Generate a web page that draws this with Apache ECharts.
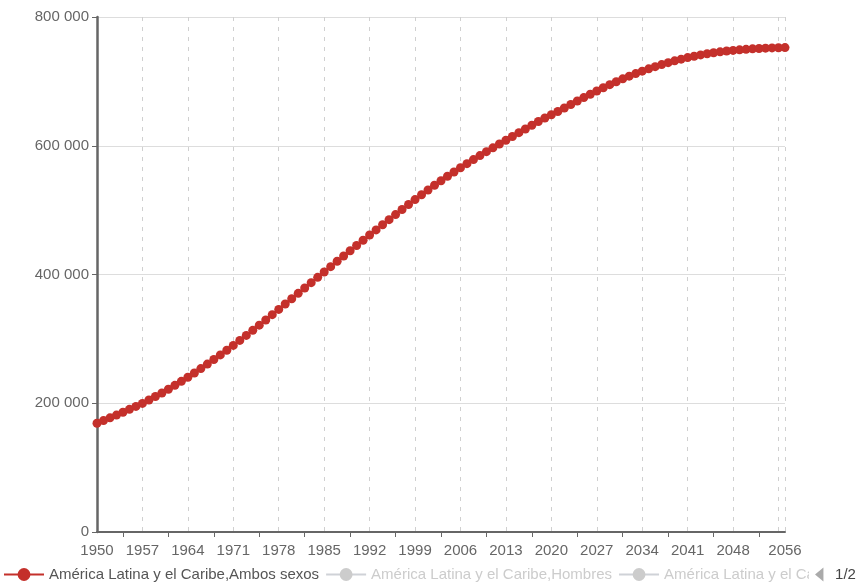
<!DOCTYPE html>
<html>
<head>
<meta charset="utf-8">
<script src="https://cdn.jsdelivr.net/npm/echarts@6/dist/echarts.min.js"></script>
<style>
html,body{margin:0;padding:0;background:#fff;}
#chart{width:856px;height:584px;}
</style>
</head>
<body>
<div id="chart"></div>
<script>
// Years on the category axis
const years = [];
for (let y = 1950; y <= 2056; y++) years.push(String(y));

// Population (thousands), América Latina y el Caribe, Ambos sexos
const ambosSexos = [
  169.0, 173.1, 177.3, 181.6, 186.0, 190.5, 195.1, 199.8, 205.0, 210.4,
  216.0, 221.8, 227.8, 234.0, 240.4, 247.0, 253.8, 260.8, 267.9, 275.1,
  282.4, 289.9, 297.6, 305.4, 313.3, 321.3, 329.4, 337.6, 345.8, 354.1,
  362.4, 370.7, 379.0, 387.3, 395.6, 403.9, 412.2, 420.5, 428.7, 436.9,
  445.1, 453.2, 461.3, 469.3, 477.3, 485.2, 493.1, 500.9, 508.7, 516.4,
  523.9, 531.3, 538.6, 545.7, 552.6, 559.3, 565.8, 572.2, 578.5, 584.7,
  590.8, 596.8, 602.7, 608.5, 614.4, 620.3, 626.1, 631.9, 637.6, 643.1,
  648.2, 653.2, 658.7, 664.1, 669.5, 674.8, 680.0, 685.1, 690.1, 694.9,
  699.5, 703.9, 708.1, 712.1, 715.9, 719.5, 722.9, 726.1, 729.1, 731.9,
  734.5, 736.9, 739.1, 741.1, 742.9, 744.5, 745.9, 747.1, 748.1, 749.0,
  749.8, 750.5, 751.1, 751.6, 752.0, 752.3, 752.5
].map(v => Math.round(v * 1000));

// Hidden series (deselected in the legend, values not visible)
const hombres = [];
const mujeres = [];

const seriesNames = [
  'América Latina y el Caribe,Ambos sexos',
  'América Latina y el Caribe,Hombres',
  'América Latina y el Caribe,Mujeres'
];

const yTicks = { min: 0, max: 800000, interval: 200000 };

const fmt = v => String(v).replace(/\B(?=(\d{3})+(?!\d))/g, ' ');
const last = years.length - 1;

const chart = echarts.init(document.getElementById('chart'), null, { renderer: 'canvas' });
chart.setOption({
  animation: false,
  textStyle: { fontFamily: 'Liberation Sans, Arial, sans-serif' },
  grid: { left: 97, right: 71, top: 17, bottom: 52, containLabel: false },
  legend: {
    type: 'scroll',
    orient: 'horizontal',
    left: 3,
    width: 873,
    bottom: 2,
    padding: 0,
    itemWidth: 40,
    itemHeight: 16,
    itemGap: 6,
    textStyle: { fontSize: 15, color: '#555' },
    inactiveColor: '#ccc',
    pageIconColor: '#888',
    pageIconInactiveColor: '#aaa',
    pageIconSize: 14,
    pageTextStyle: { fontSize: 15, color: '#444' },
    pageButtonItemGap: 5,
    selected: {
      [seriesNames[1]]: false,
      [seriesNames[2]]: false
    },
    data: seriesNames
  },
  xAxis: {
    type: 'category',
    data: years,
    boundaryGap: false,
    axisLine: { lineStyle: { color: '#666', width: 2 } },
    axisTick: {
      show: true,
      length: 5,
      interval: (i) => i % 7 === 4,
      lineStyle: { color: '#666' }
    },
    axisLabel: {
      fontSize: 15,
      color: '#666',
      margin: 11,
      interval: (i) => (i % 7 === 0 && i !== last - 1) || i === last
    },
    splitLine: {
      show: true,
      interval: (i) => i % 7 === 0 || i === last,
      lineStyle: { type: [4, 6], color: '#d0d0d0', width: 1 }
    }
  },
  yAxis: {
    type: 'value',
    min: yTicks.min,
    max: yTicks.max,
    interval: yTicks.interval,
    axisLine: { show: true, lineStyle: { color: '#666', width: 2.5 } },
    axisTick: { show: true, length: 5, lineStyle: { color: '#666' } },
    axisLabel: { fontSize: 15, color: '#666', margin: 8, formatter: fmt },
    splitLine: { show: true, lineStyle: { color: '#ddd', width: 1 } }
  },
  series: [
    {
      name: seriesNames[0],
      type: 'line',
      data: ambosSexos,
      symbol: 'circle',
      symbolSize: 9,
      showAllSymbol: true,
      itemStyle: { color: '#c4302b' },
      lineStyle: { width: 2.5, color: '#c4302b' }
    },
    {
      name: seriesNames[1],
      type: 'line',
      data: hombres,
      symbol: 'circle',
      symbolSize: 9,
      itemStyle: { color: '#2f4554' }
    },
    {
      name: seriesNames[2],
      type: 'line',
      data: mujeres,
      symbol: 'circle',
      symbolSize: 9,
      itemStyle: { color: '#61a0a8' }
    }
  ]
});
</script>
</body>
</html>
